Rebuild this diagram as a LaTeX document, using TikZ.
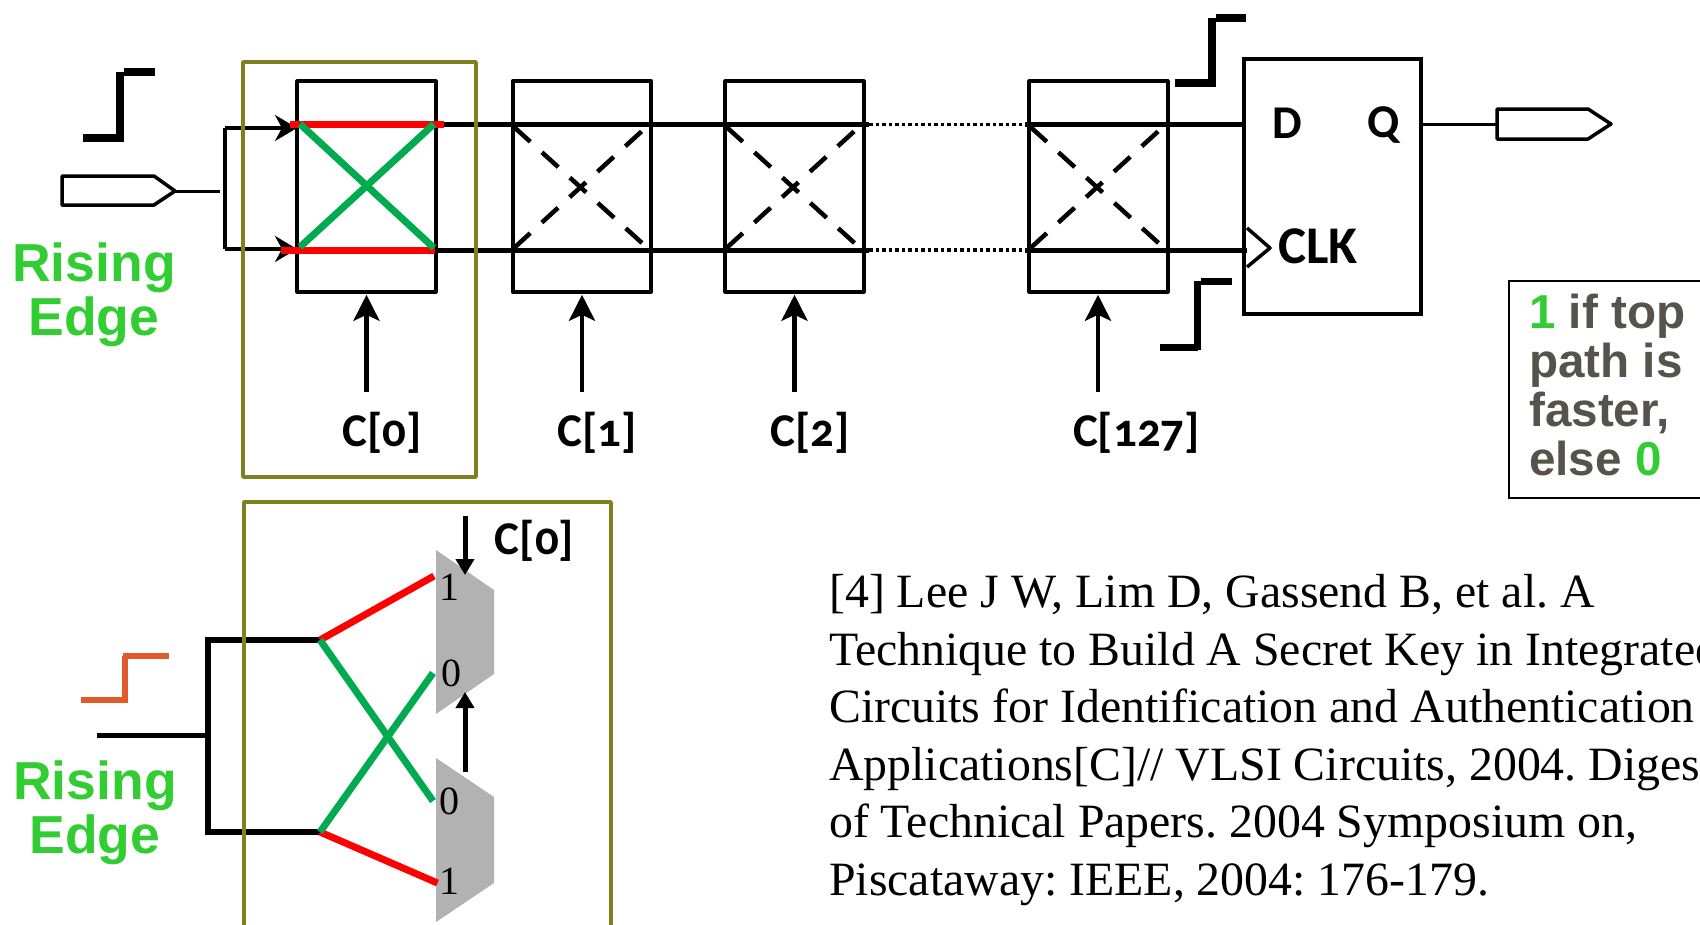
\documentclass[tikz,border=0pt]{standalone}
\usepackage{fontspec}
\usetikzlibrary{arrows.meta}
\setmainfont{Liberation Serif}
\newfontfamily\arialb{Liberation Sans}
\newfontfamily\calb[Numbers=OldStyle,UprightFont=* Bold]{Carlito}
\definecolor{olive1}{HTML}{808020}
\definecolor{grn}{HTML}{00AB4F}
\definecolor{lime1}{HTML}{32CD32}
\definecolor{redw}{HTML}{FF0000}
\definecolor{notegray}{HTML}{55534A}
\definecolor{orangew}{HTML}{E05A2B}
\definecolor{muxgray}{HTML}{B2B2B2}
\tikzset{
  cellbox/.style={draw=black,line width=4pt,line join=round,inner sep=0pt,minimum width=138.5pt,minimum height=210.5pt},
  wire/.style={draw=black,line width=5pt},
  thin wire/.style={draw=black,line width=3pt,line join=round},
  redpath/.style={draw=redw,line width=7pt},
  greenpath/.style={draw=grn,line width=7pt},
  dashcross/.style={draw=black,line width=4.5pt,dash pattern=on 22pt off 15.7pt},
  dotwire/.style={draw=black,line width=3.5pt,dash pattern=on 3.5pt off 3pt},
  stepline/.style={draw=black,line width=8pt},
  olivebox/.style={draw=olive1,line width=3.5pt,line join=round},
  ctrlarrow/.style={draw=black,line width=4.5pt,-{Stealth[length=26pt,width=26pt,inset=6pt]}},
  inarrow/.style={draw=black,line width=3.5pt,-{Stealth[length=22pt,width=26pt,inset=7pt]}},
  muxarrow/.style={draw=black,line width=5pt,-{Stealth[length=16pt,width=18pt,inset=0pt]}},
  pencil/.style={draw=black,line width=3.5pt,line join=round,fill=white},
  clabel/.style={inner sep=0pt,font=\calb\fontsize{47}{47}\selectfont},
  edgelabel/.style={inner sep=0pt,align=center,text=lime1,font=\arialb\bfseries\fontsize{53.5}{54}\selectfont},
  mux/.style={fill=muxgray,draw=none},
  muxnum/.style={inner sep=0pt,font=\fontsize{40}{40}\selectfont},
}
\begin{document}
\begin{tikzpicture}[x=1pt,y=-1pt]
\path[use as bounding box,clip] (0,0) rectangle (1700,924);
% cells
\node[cellbox] (c0) at (366.5,186.5) {};
\node[cellbox] (c1) at (582,186.5) {};
\node[cellbox] (c2) at (794.5,186.5) {};
\node[cellbox] (c127) at (1098.5,186.5) {};
\node[draw=black,line width=4pt,inner sep=0pt,minimum width=176.5pt,minimum height=254.5pt] (ff) at (1332.5,186.5) {};
% coordinates
\coordinate (t0l) at (290,124.5); \coordinate (t0r) at (444,124.5);
\coordinate (b0l) at (281,250); \coordinate (b0r) at (435,250);
\coordinate (dot1t) at (869,124.5); \coordinate (dot2t) at (1025,124.5);
\coordinate (dot1b) at (869,250); \coordinate (dot2b) at (1025,250);
\coordinate (dt) at (1244,124.5); \coordinate (db) at (1247,250);
\coordinate (split) at (225,191);
\coordinate (splitT) at (225,128); \coordinate (splitB) at (225,249);
\coordinate (a0t) at (297,128); \coordinate (a0b) at (297,249);
% wires
\draw[wire] (t0r) -- (dot1t); \draw[wire] (b0r) -- (dot1b);
\draw[wire] (dot2t) -- (dt); \draw[wire] (dot2b) -- (db);
\draw[dotwire] (dot1t) -- (dot2t); \draw[dotwire] (dot1b) -- (dot2b);
% dashed crosses
\foreach \n/\x in {c1/582,c2/794.5,c127/1098.5}{
  \coordinate (\n tl) at (\x-68,127); \coordinate (\n br) at (\x+60,243);
  \coordinate (\n bl) at (\x-68,248); \coordinate (\n tr) at (\x+60,131);
  \draw[dashcross] (\n tl) -- (\n br);
  \draw[dashcross] (\n bl) -- (\n tr);
}
% input
\draw[inarrow] (a0t -| split) -- (a0t);
\draw[inarrow] (a0b -| split) -- (a0b);
\draw[thin wire,line width=4pt] (splitT) -- (splitB);
\draw[pencil] (62,176) -- (154,176) -- (175,191) -- (154,205) -- (62,205) -- cycle;
\coordinate (inpTip) at (175,191); \coordinate (inpEnd) at (220,191);
\draw[thin wire] (inpTip) -- (inpEnd);
% red, green
\draw[redpath] (t0l) -- (t0r);
\draw[redpath] (b0l) -- (b0r);
\draw[greenpath] (300,124) -- (434,248);
\draw[greenpath] (300,247) -- (434,124);
% steps
\draw[stepline] (83,138) -- (120,138);
\draw[stepline] (120,142) -- (120,72);
\draw[stepline] (124,72) -- (155,72);
\draw[stepline] (1175,83) -- (1212,83);
\draw[stepline] (1212,87) -- (1212,18);
\draw[stepline] (1216,18) -- (1246,18);
\draw[stepline,line width=7pt] (1160,347) -- (1198,347);
\draw[stepline,line width=7pt] (1197,350) -- (1197,281);
\draw[stepline,line width=7pt] (1201,281) -- (1232,281);
% control arrows and labels
\foreach \n/\x in {c0/366.5,c1/582,c2/794.5,c127/1098}{
  \coordinate (\n in) at (\x,392);
  \draw[ctrlarrow] (\n in) -- ([yshift=-1pt]\n.south -| \n in);
}
\node[clabel] (l0) at (382,433) {C[0]};
\node[clabel] (l1) at (597,433) {C[1]};
\node[clabel] (l2) at (810,433) {C[2]};
\node[clabel] (l127) at (1136.5,433) {C[127]};
% flip-flop
\draw[thin wire,line width=3.5pt,fill=white] (1247,228) -- (1270,248) -- (1247,267);
\node[clabel] (d) at (1287,123) {D};
\node[clabel] (q) at (1384,125) {Q};
\node[clabel,font=\calb\fontsize{53}{53}\selectfont,anchor=west] (clk) at (1278,246) {CLK};
\coordinate (qout) at (1497,124);
\draw[thin wire] (ff.east |- qout) -- (qout);
\draw[pencil] (1497,109) -- (1588,109) -- (1611,124) -- (1588,139) -- (1497,139) -- cycle;
% olive top
\node[olivebox,inner sep=0pt,minimum width=233pt,minimum height=415pt] (ob) at (359.5,269.5) {};
% labels Rising Edge
\node[edgelabel,anchor=base] (re1) at (94,335) {Rising\\Edge};
% note
\node[draw=black,line width=2pt,inner sep=0pt,minimum width=200pt,minimum height=217pt] (note) at (1609,389.5) {};
\node[inner sep=0pt,anchor=base west,align=left,text=notegray,font=\arialb\bfseries\fontsize{47.6}{49}\selectfont] (notetxt) at (1529,475) {\textcolor{lime1}{1} if top\\path is\\faster,\\else \textcolor{lime1}{0}};
% lower mux diagram
\fill[mux] (436,550) -- (494,590) -- (494,674) -- (436,714) -- cycle;
\fill[mux] (436,758) -- (494,797) -- (494,883) -- (436,922) -- cycle;
\coordinate (lin) at (97,735.5); \coordinate (lsp) at (208,735.5);
\coordinate (lt) at (208,640); \coordinate (lb) at (208,832);
\coordinate (ltr) at (320,640); \coordinate (lbr) at (320,832);
\draw[wire,line width=5.5pt] (lin) -- (lsp);
\draw[wire,line width=6pt,line cap=rect] (lt) -- (lb);
\draw[wire,line width=5.5pt] (lt) -- (ltr);
\draw[wire,line width=5.5pt] (lb) -- (lbr);
\coordinate (m1) at (434,576); \coordinate (m4) at (437.5,883);
\coordinate (m2) at (433,673); \coordinate (m3) at (433,801);
\draw[redpath] (ltr) -- (m1);
\draw[redpath] (lbr) -- (m4);
\draw[greenpath] (ltr) -- (m3);
\draw[greenpath] (lbr) -- (m2);
\node[muxnum] (n1) at (449,587) {1};
\node[muxnum] (n2) at (451,673) {0};
\node[muxnum] (n3) at (449,801) {0};
\node[muxnum] (n4) at (449,881) {1};
\coordinate (ma1) at (465,516); \coordinate (ma2) at (465,575);
\coordinate (ma3) at (465,772); \coordinate (ma4) at (465,692);
\draw[muxarrow] (ma1) -- (ma2);
\draw[muxarrow] (ma3) -- (ma4);
\node[clabel] (lm) at (534.5,541) {C[0]};
\draw[olivebox] (244,930) -- (244,502) -- (611,502) -- (611,930);
\draw[draw=orangew,line width=5.5pt] (81,700) -- (125,700);
\draw[draw=orangew,line width=5.5pt] (125,702.5) -- (125,656);
\draw[draw=orangew,line width=5.5pt] (122.5,656) -- (168.5,656);
\node[edgelabel,anchor=base] (re2) at (95,853) {Rising\\Edge};
% citation
\node[inner sep=0pt,anchor=base west,align=left,font=\frenchspacing\fontsize{47.8}{57.5}\selectfont] (cite) at (829,895) {[4] Lee J W, Lim D, Gassend B, et al. A\\Technique to Build A Secret Key in Integrated\\Circuits for Identification and Authentication\\Applications[C]// VLSI Circuits, 2004. Digest\\of Technical Papers. 2004 Symposium on,\\Piscataway: IEEE, 2004: 176-179.};
\end{tikzpicture}
\end{document}
